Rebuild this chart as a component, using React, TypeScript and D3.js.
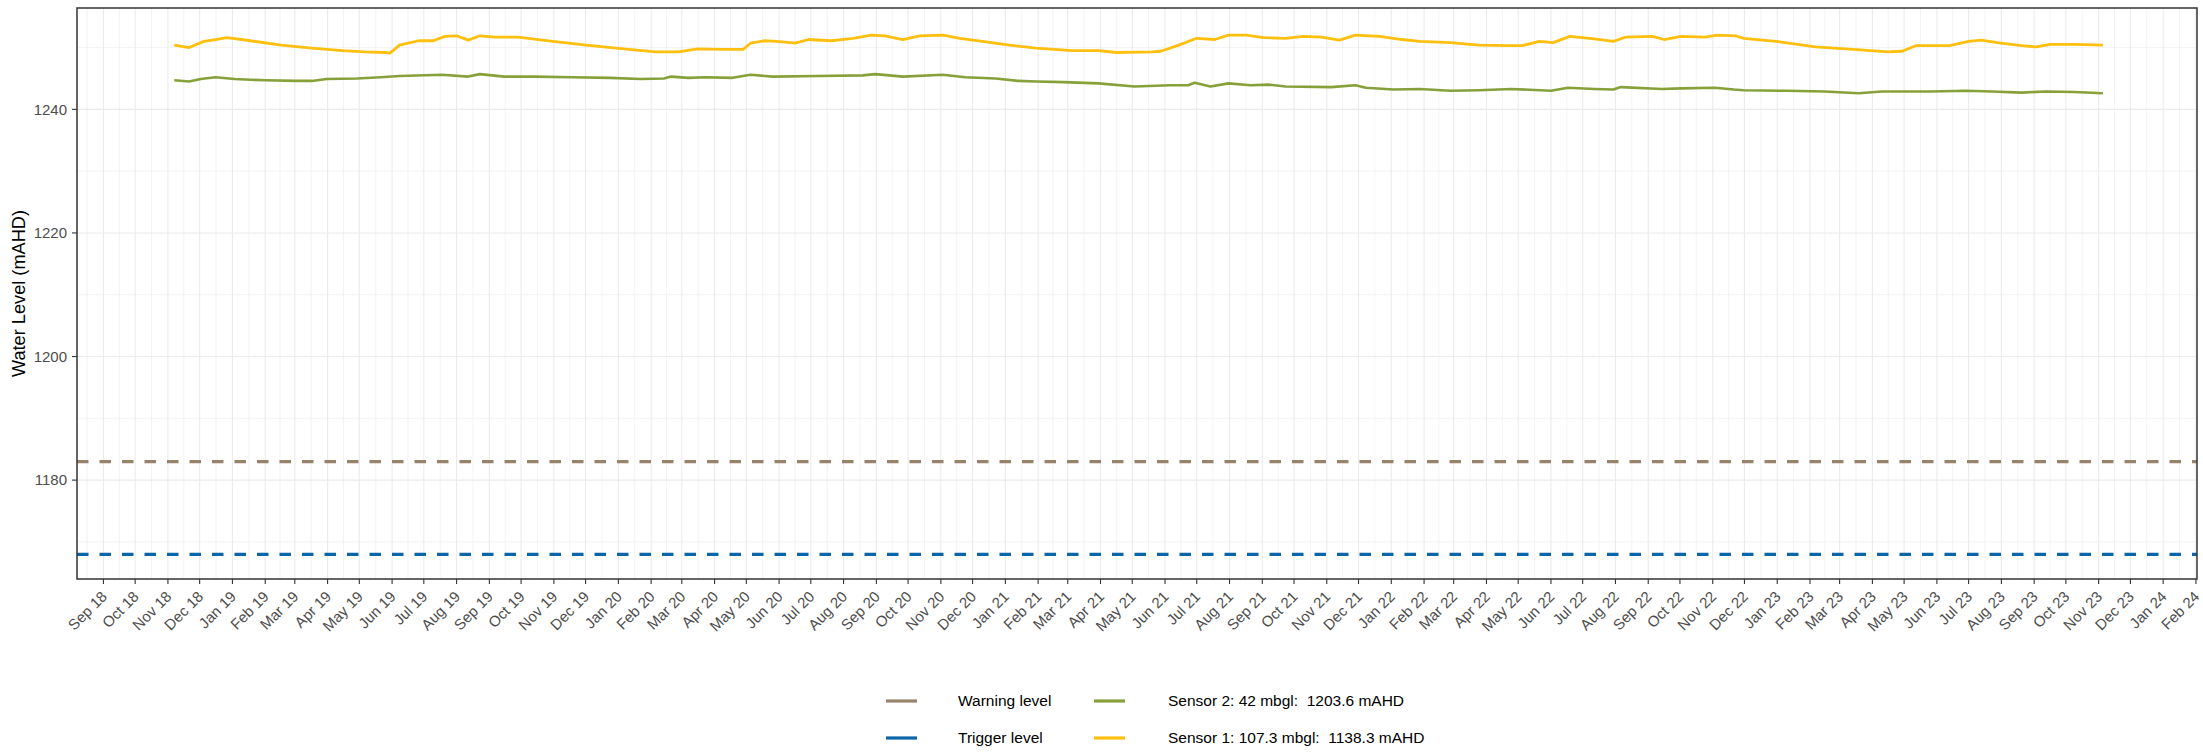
import React, { useMemo } from 'react';
import * as d3 from 'd3';

// Sensor readings (date, mAHD)
const sensor1Dates = [
  '2018-11-07', '2018-11-21', '2018-12-05', '2018-12-16', '2018-12-27', '2019-01-18', '2019-02-16', '2019-03-17',
  '2019-04-15', '2019-05-06', '2019-05-26', '2019-05-30', '2019-06-08', '2019-06-26', '2019-07-10', '2019-07-21',
  '2019-08-01', '2019-08-12', '2019-08-23', '2019-09-06', '2019-09-28', '2019-10-31', '2019-12-06', '2020-01-11',
  '2020-02-05', '2020-02-27', '2020-03-16', '2020-04-10', '2020-04-28', '2020-05-05', '2020-05-18', '2020-05-30',
  '2020-06-16', '2020-06-29', '2020-07-20', '2020-08-10', '2020-08-27', '2020-09-09', '2020-09-26', '2020-10-12',
  '2020-11-03', '2020-11-19', '2020-12-10', '2021-01-05', '2021-01-30', '2021-03-05', '2021-03-30', '2021-04-16',
  '2021-05-20', '2021-05-28', '2021-06-14', '2021-07-01', '2021-07-18', '2021-07-31', '2021-08-17', '2021-09-02',
  '2021-09-23', '2021-10-10', '2021-10-27', '2021-11-13', '2021-11-28', '2021-12-21', '2022-01-11', '2022-01-28',
  '2022-02-26', '2022-03-25', '2022-04-21', '2022-05-05', '2022-05-21', '2022-06-03', '2022-06-19', '2022-07-12',
  '2022-07-30', '2022-08-11', '2022-09-05', '2022-09-16', '2022-10-02', '2022-10-25', '2022-11-05', '2022-11-23',
  '2022-11-30', '2022-12-31', '2023-02-06', '2023-03-14', '2023-04-15', '2023-04-29', '2023-05-12', '2023-06-13',
  '2023-07-01', '2023-07-13', '2023-07-28', '2023-08-20', '2023-09-03', '2023-09-16', '2023-10-09', '2023-11-05',
];
const sensor1Values = [
  1250.4, 1250.0, 1251.0, 1251.3, 1251.6, 1251.1, 1250.4, 1249.9,
  1249.5, 1249.3, 1249.2, 1249.1, 1250.4, 1251.1, 1251.1, 1251.8,
  1251.9, 1251.2, 1251.9, 1251.7, 1251.7, 1251.0, 1250.3, 1249.7,
  1249.3, 1249.3, 1249.8, 1249.7, 1249.7, 1250.7, 1251.1, 1251.0,
  1250.7, 1251.3, 1251.1, 1251.5, 1252.0, 1251.9, 1251.3, 1251.9,
  1252.0, 1251.5, 1251.0, 1250.4, 1249.9, 1249.5, 1249.5, 1249.2,
  1249.3, 1249.4, 1250.4, 1251.5, 1251.3, 1252.0, 1252.0, 1251.6,
  1251.5, 1251.8, 1251.7, 1251.2, 1252.0, 1251.8, 1251.3, 1251.0,
  1250.8, 1250.4, 1250.3, 1250.3, 1251.0, 1250.8, 1251.8, 1251.4,
  1251.0, 1251.7, 1251.8, 1251.3, 1251.8, 1251.7, 1252.0, 1251.9,
  1251.5, 1251.0, 1250.1, 1249.7, 1249.3, 1249.4, 1250.3, 1250.3,
  1251.0, 1251.2, 1250.8, 1250.3, 1250.1, 1250.5, 1250.5, 1250.4,
];

const sensor2Dates = [
  '2018-11-07', '2018-11-21', '2018-12-02', '2018-12-16', '2019-01-03', '2019-02-01', '2019-03-02', '2019-03-17',
  '2019-03-31', '2019-04-29', '2019-05-21', '2019-06-08', '2019-07-18', '2019-08-12', '2019-08-23', '2019-09-15',
  '2019-10-13', '2019-11-18', '2019-12-24', '2020-01-22', '2020-02-13', '2020-02-20', '2020-03-07', '2020-03-24',
  '2020-04-18', '2020-05-05', '2020-05-26', '2020-07-07', '2020-08-19', '2020-08-31', '2020-09-26', '2020-11-03',
  '2020-11-24', '2020-12-23', '2021-01-13', '2021-01-30', '2021-02-25', '2021-03-30', '2021-05-03', '2021-06-06',
  '2021-06-23', '2021-06-29', '2021-07-14', '2021-07-31', '2021-08-21', '2021-09-07', '2021-09-23', '2021-11-05',
  '2021-11-28', '2021-12-08', '2022-01-03', '2022-01-28', '2022-02-26', '2022-03-25', '2022-04-24', '2022-06-01',
  '2022-06-17', '2022-07-12', '2022-07-30', '2022-08-06', '2022-09-14', '2022-10-02', '2022-11-03', '2022-11-21',
  '2022-11-30', '2023-01-10', '2023-02-15', '2023-03-19', '2023-04-10', '2023-05-26', '2023-06-29', '2023-07-23',
  '2023-08-20', '2023-09-12', '2023-10-09', '2023-11-05',
];
const sensor2Values = [
  1244.7, 1244.5, 1244.9, 1245.2, 1244.9, 1244.7, 1244.6, 1244.6,
  1244.9, 1245.0, 1245.2, 1245.4, 1245.6, 1245.3, 1245.7, 1245.3,
  1245.3, 1245.2, 1245.1, 1244.9, 1245.0, 1245.3, 1245.1, 1245.2,
  1245.1, 1245.6, 1245.3, 1245.4, 1245.5, 1245.7, 1245.3, 1245.6,
  1245.2, 1245.0, 1244.6, 1244.5, 1244.4, 1244.2, 1243.7, 1243.9,
  1243.9, 1244.3, 1243.7, 1244.2, 1243.9, 1244.0, 1243.7, 1243.6,
  1243.9, 1243.5, 1243.2, 1243.3, 1243.0, 1243.1, 1243.3, 1243.0,
  1243.5, 1243.3, 1243.2, 1243.6, 1243.3, 1243.4, 1243.5, 1243.2,
  1243.1, 1243.0, 1242.9, 1242.6, 1242.9, 1242.9, 1243.0, 1242.9,
  1242.7, 1242.9, 1242.8, 1242.6,
];

const warningLevel = 1183;
const triggerLevel = 1168;

const yTicks = [1180, 1200, 1220, 1240];
const yMinor = [1170, 1190, 1210, 1230, 1250];

const legendItems = [
  { label: 'Warning level', color: '#95846a' },
  { label: 'Trigger level', color: '#0a66a8' },
  { label: 'Sensor 2: 42 mbgl:  1203.6 mAHD', color: '#86a03a' },
  { label: 'Sensor 1: 107.3 mbgl:  1138.3 mAHD', color: '#ffbf0f' },
];

const W = 2203;
const H = 755;
const M = { left: 77, right: 2197, top: 8, bottom: 579 };
const FONT = '"Liberation Sans", Arial, Helvetica, sans-serif';

const parse = d3.utcParse('%Y-%m-%d');
const fmt = d3.utcFormat('%b %y');

export default function App() {
  const x = useMemo(
    () => d3.scaleUtc().domain([parse('2018-08-07'), parse('2024-02-02')]).range([M.left, M.right]),
    [],
  );
  const y = useMemo(() => d3.scaleLinear().domain([1164, 1256.4]).range([M.bottom, M.top]), []);

  const months = d3.utcMonth.range(parse('2018-08-01'), parse('2024-03-01'));
  const majors = months.filter((m) => x(m) >= M.left && x(m) <= M.right);
  const minors: Date[] = [];
  for (let i = 0; i < months.length - 1; i++) {
    const mid = new Date((months[i].getTime() + months[i + 1].getTime()) / 2);
    if (x(mid) >= M.left && x(mid) <= M.right) minors.push(mid);
  }

  const lineGen = d3
    .line<[Date, number]>()
    .x((d) => x(d[0]))
    .y((d) => y(d[1]));

  const s1 = sensor1Dates.map((d, i) => [parse(d)!, sensor1Values[i]] as [Date, number]);
  const s2 = sensor2Dates.map((d, i) => [parse(d)!, sensor2Values[i]] as [Date, number]);

  const legendRows = [701, 738];
  const legendCols = [
    { keyX: 886, textX: 958 },
    { keyX: 1094, textX: 1168 },
  ];

  return (
    <svg
      width={W}
      height={H}
      style={{ position: 'absolute', left: 0, top: 0, background: '#fff' }}
      fontFamily={FONT}
    >
      <rect x={0} y={0} width={W} height={H} fill="#fff" />
      {/* grid */}
      <g>
        {yMinor.map((v) => (
          <line key={'ym' + v} x1={M.left} x2={M.right} y1={y(v)} y2={y(v)} stroke="#ebebeb" strokeWidth={0.6} />
        ))}
        {minors.map((d) => (
          <line key={'xm' + d.getTime()} x1={x(d)} x2={x(d)} y1={M.top} y2={M.bottom} stroke="#ebebeb" strokeWidth={0.6} />
        ))}
        {yTicks.map((v) => (
          <line key={'yM' + v} x1={M.left} x2={M.right} y1={y(v)} y2={y(v)} stroke="#ebebeb" strokeWidth={1.1} />
        ))}
        {majors.map((d) => (
          <line key={'xM' + d.getTime()} x1={x(d)} x2={x(d)} y1={M.top} y2={M.bottom} stroke="#ebebeb" strokeWidth={1.1} />
        ))}
      </g>

      {/* threshold lines */}
      <line
        x1={M.left}
        x2={M.right}
        y1={y(warningLevel)}
        y2={y(warningLevel)}
        stroke={legendItems[0].color}
        strokeWidth={3.2}
        strokeDasharray="11.5 11"
      />
      <line
        x1={M.left}
        x2={M.right}
        y1={y(triggerLevel)}
        y2={y(triggerLevel)}
        stroke={legendItems[1].color}
        strokeWidth={3.2}
        strokeDasharray="11.5 11"
      />

      {/* sensors */}
      <path d={lineGen(s2) ?? ''} fill="none" stroke={legendItems[2].color} strokeWidth={2.6} strokeLinejoin="round" />
      <path d={lineGen(s1) ?? ''} fill="none" stroke={legendItems[3].color} strokeWidth={2.8} strokeLinejoin="round" />

      {/* panel border */}
      <rect
        x={M.left}
        y={M.top}
        width={M.right - M.left}
        height={M.bottom - M.top}
        fill="none"
        stroke="#333333"
        strokeWidth={1.5}
      />

      {/* y axis */}
      {yTicks.map((v) => (
        <g key={'yt' + v}>
          <line x1={M.left - 5} x2={M.left} y1={y(v)} y2={y(v)} stroke="#333333" strokeWidth={1.1} />
          <text x={M.left - 10} y={y(v)} dy="0.35em" textAnchor="end" fontSize={15} fill="#4d4d4d">
            {v}
          </text>
        </g>
      ))}
      <text
        transform={`translate(25, ${(M.top + M.bottom) / 2}) rotate(-90)`}
        textAnchor="middle"
        fontSize={18.2}
        fill="#000"
      >
        Water Level (mAHD)
      </text>

      {/* x axis */}
      {majors.map((d) => (
        <g key={'xt' + d.getTime()}>
          <line x1={x(d)} x2={x(d)} y1={M.bottom} y2={M.bottom + 5} stroke="#333333" strokeWidth={1.1} />
          <text
            transform={`translate(${x(d) - 3}, ${M.bottom + 11}) rotate(-45)`}
            textAnchor="end"
            dy="0.71em"
            fontSize={15}
            fill="#4d4d4d"
          >
            {fmt(d)}
          </text>
        </g>
      ))}

      {/* legend */}
      {legendItems.map((item, i) => {
        const col = legendCols[Math.floor(i / 2)];
        const row = legendRows[i % 2];
        return (
          <g key={item.label}>
            <line x1={col.keyX} x2={col.keyX + 31} y1={row} y2={row} stroke={item.color} strokeWidth={3.2} />
            <text x={col.textX} y={row} dy="0.35em" fontSize={15.5} fill="#000" style={{ whiteSpace: 'pre' }}>
              {item.label}
            </text>
          </g>
        );
      })}
    </svg>
  );
}
